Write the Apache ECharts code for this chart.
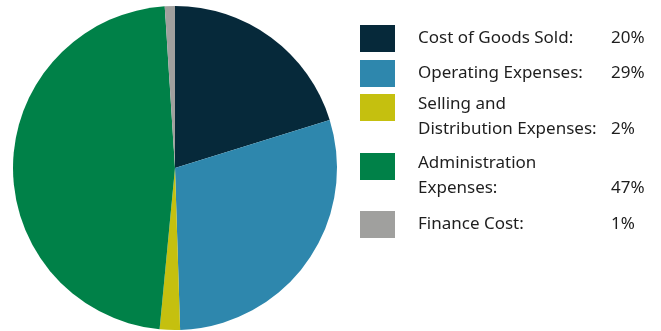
<!DOCTYPE html>
<html>
<head>
<meta charset="utf-8">
<script src="https://cdn.jsdelivr.net/npm/echarts@6/dist/echarts.min.js"></script>
<style>
  html, body { margin: 0; padding: 0; background: #ffffff; }
  #chart { width: 661px; height: 331px; }
</style>
</head>
<body>
<div id="chart"></div>
<script>
// Expense breakdown (percent of total)
const categories = [
  'Cost of Goods Sold:',
  'Operating Expenses:',
  'Selling and\nDistribution Expenses:',
  'Administration\nExpenses:',
  'Finance Cost:'
];
const values = [20, 29, 2, 47, 1];
const percentLabels = ['20%', '29%', '2%', '47%', '1%'];
const colors = ['#06293a', '#2e87ad', '#c5c00f', '#008148', '#a0a09e'];

// Legend row layout: top of each swatch
const rowTops = [25, 60, 94, 153, 211];

const FONT = '"Noto Sans", sans-serif';
const chart = echarts.init(document.getElementById('chart'), null, { renderer: 'canvas' });

const legendGraphics = [];
categories.forEach((name, i) => {
  const top = rowTops[i];
  const lines = name.split('\n');
  legendGraphics.push({
    type: 'rect',
    shape: { x: 360, y: top, width: 35, height: 27 },
    style: { fill: colors[i] }
  });
  // Multi-line names start slightly higher than the swatch centre
  const firstY = lines.length > 1 ? top + 10 : top + 13.5;
  lines.forEach((ln, j) => {
    legendGraphics.push({
      type: 'text',
      x: 418,
      y: firstY + j * 25,
      style: {
        text: ln,
        font: '17px ' + FONT,
        fill: '#1e1e1e',
        textVerticalAlign: 'middle'
      }
    });
  });
  legendGraphics.push({
    type: 'text',
    x: 611,
    y: firstY + (lines.length - 1) * 25,
    style: {
      text: percentLabels[i],
      font: '17px ' + FONT,
      fill: '#1e1e1e',
      textVerticalAlign: 'middle'
    }
  });
});

chart.setOption({
  animation: false,
  backgroundColor: '#ffffff',
  color: colors,
  series: [{
    type: 'pie',
    center: [175, 168],
    radius: 162,
    startAngle: 90,
    clockwise: true,
    label: { show: false },
    labelLine: { show: false },
    emphasis: { disabled: true },
    itemStyle: { borderWidth: 0 },
    data: categories.map((c, i) => ({ name: c, value: values[i] }))
  }],
  graphic: legendGraphics
});
</script>
</body>
</html>
